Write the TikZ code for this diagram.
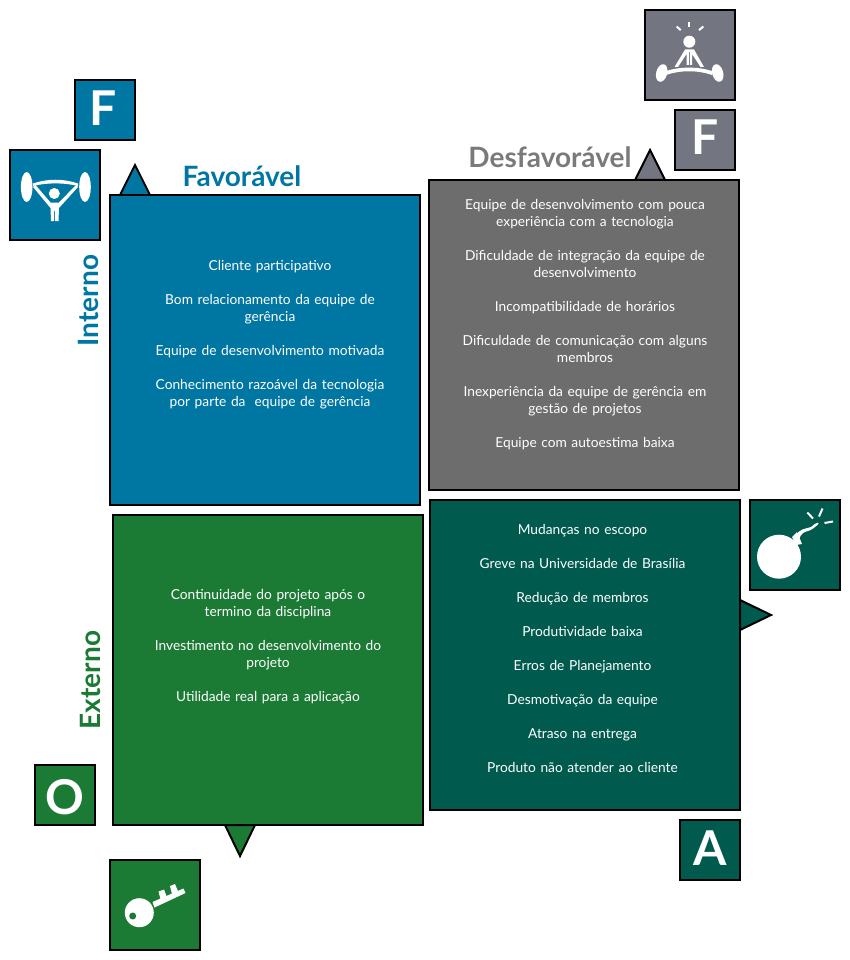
\documentclass[tikz,border=0pt]{standalone}
\usepackage{fontspec}
\setmainfont{Lato}
\definecolor{cblue}{HTML}{0076A3}
\definecolor{cgray}{HTML}{6D6D6D}
\definecolor{cicon}{HTML}{737680}
\definecolor{cteal}{HTML}{005A4E}
\definecolor{cgreen}{HTML}{1B7B35}
\definecolor{chead}{HTML}{7A7A7A}
\tikzset{
  panel/.style={draw=black,line width=2pt},
  bodytext/.style={text=white,align=center,inner sep=0pt,font=\fontsize{13.75}{17}\selectfont,text width=290pt},
  letter/.style={text=white,inner sep=0pt,font=\fontsize{48}{48}\selectfont\bfseries},
  heading/.style={inner sep=0pt,font=\fontsize{28}{30}\selectfont\bfseries},
  ink/.style={fill=white,draw=none},
  stroke/.style={draw=white,line cap=butt}
}
\begin{document}
\begin{tikzpicture}[x=1pt,y=-1pt]
\useasboundingbox (0,0) rectangle (850,960);
% pointers
\draw[panel,fill=cblue] (120,195) -- (135,165) -- (150,195) -- cycle;
\draw[panel,fill=cicon] (635,180) -- (650,150) -- (665,180) -- cycle;
\draw[panel,fill=cteal] (740,600) -- (771,615) -- (740,630) -- cycle;
\draw[panel,fill=cgreen] (225,825) -- (240,856) -- (255,825) -- cycle;
% panels
\draw[panel,fill=cblue] (110,195) rectangle (420,505);
\draw[panel,fill=cgray] (429,180) rectangle (739,489.7);
\draw[panel,fill=cteal] (430,500) rectangle (740,810);
\draw[panel,fill=cgreen] (113,515) rectangle (423,825);
% small boxes
\draw[panel,fill=cblue] (75,80) rectangle (135,140);
\draw[panel,fill=cblue] (10,150) rectangle (100,240);
\draw[panel,fill=cicon] (675,110) rectangle (735,170);
\draw[panel,fill=cicon] (645,10) rectangle (735,100);
\draw[panel,fill=cteal] (750,500) rectangle (840,590);
\draw[panel,fill=cteal] (680,820) rectangle (740,880);
\draw[panel,fill=cgreen] (35,765) rectangle (95,825);
\draw[panel,fill=cgreen] (110,860) rectangle (200,950);
% letters
\node[letter] (lf1) at (103,108) {F};
\node[letter] (lf2) at (705,137.5) {F};
\node[letter] (lo) at (65,797.5) {O};
\node[letter] (la) at (710,848.5) {A};
% headings
\node[heading,text=cblue] (fav) at (242,176) {Favorável};
\node[heading,text=chead] (des) at (550,157) {Desfavorável};
\node[heading,text=cblue,rotate=90] (int) at (88,300.5) {Interno};
\node[heading,text=cgreen,rotate=90] (ext) at (90,680) {Externo};
% texts
\node[bodytext] (t1) at (270,335) {Cliente participativo\\[17pt]Bom relacionamento da equipe de\\gerência\\[17pt]Equipe de desenvolvimento motivada\\[17pt]Conhecimento razoável da tecnologia\\por parte da\ \ equipe de gerência};
\node[bodytext] (t2) at (585,325) {Equipe de desenvolvimento com pouca\\experiência com a tecnologia\\[17pt]Dificuldade de integração da equipe de\\desenvolvimento\\[17pt]Incompatibilidade de horários\\[17pt]Dificuldade de comunicação com alguns\\membros\\[17pt]Inexperiência da equipe de gerência em\\gestão de projetos\\[17pt]Equipe com autoestima baixa};
\node[bodytext] (t3) at (582.5,648) {Mudanças no escopo\\[17pt]Greve na Universidade de Brasília\\[17pt]Redução de membros\\[17pt]Produtividade baixa\\[17pt]Erros de Planejamento\\[17pt]Desmotivação da equipe\\[17pt]Atraso na entrega\\[17pt]Produto não atender ao cliente};
\node[bodytext] (t4) at (268,647) {Continuidade do projeto após o\\termino da disciplina\\[17pt]Investimento no desenvolvimento do\\projeto\\[17pt]Utilidade real para a aplicação};
% weightlifter
\fill[ink] (26.7,187) ellipse [x radius=5.8,y radius=15];
\fill[ink] (85,187) ellipse [x radius=5.8,y radius=15];
\fill[ink] (54.3,193.5) circle (5.5);
\fill[ink] (33,183.5) .. controls (47,178.5) and (64,178.5) .. (78,183.5) -- (78,186) .. controls (64,182.5) and (47,182.5) .. (33,186) -- cycle;
\fill[ink] (33,187) -- (35.5,185) -- (50.5,202.5) -- (59,202.5) -- (76,185) -- (78,187) -- (59,208) -- (58.5,221) -- (55.2,221) -- (55.2,211) -- (54.2,211) -- (54.2,221) -- (51,221) -- (50.5,208) -- cycle;
% seated figure
\fill[ink] (689.3,41.7) circle (6);
\draw[stroke,line width=2pt] (689,22.5) -- (689,27);
\draw[stroke,line width=2pt] (676.7,26.5) -- (680.7,30.2);
\draw[stroke,line width=2pt] (703.3,26.5) -- (699,30.2);
\fill[ink,rotate around={-15:(661.7,73)}] (661.7,73) ellipse [x radius=5.5,y radius=9];
\fill[ink,rotate around={15:(717.7,73)}] (717.7,73) ellipse [x radius=5.5,y radius=9];
\fill[ink] (666,71) .. controls (680,66.5) and (698,66.5) .. (712,71) -- (712,75) .. controls (698,70) and (680,70) .. (666,75) -- cycle;
\fill[ink] (685,49.5) -- (694,49.5) -- (704,67) -- (700.5,67) -- (692,54) -- (692,65) -- (689.8,65) -- (689.8,52) -- (688.8,52) -- (688.8,65) -- (686.5,65) -- (686.5,54) -- (678,67) -- (674.5,67) -- cycle;
% bomb
\fill[ink] (779,556.7) circle (22);
\fill[ink] (792,537) -- (797,532) -- (802,544) -- (796,545) -- cycle;
\fill[ink] (795,537) .. controls (799,528) and (806,529) .. (811,527) .. controls (814,525) and (815,523) .. (818,522.5) -- (818.5,524) .. controls (815,527) and (812,530) .. (808,531) .. controls (804,532) and (801,533) .. (799,540) -- cycle;
\draw[stroke,line width=2pt] (807.3,512.5) -- (813,518.5);
\draw[stroke,line width=2pt] (822.5,508.5) -- (819,516.5);
\draw[stroke,line width=2pt] (824.5,523) -- (833,521.5);
% key
\fill[ink] (139.3,912.7) circle (14.5);
\fill[cgreen] (132.7,916) circle (3.5);
\fill[ink] (152.5,902) -- (183.5,888.5) -- (185.5,893) -- (154.5,907.5) -- cycle;
\fill[ink] (160.5,899) -- (158.5,891.5) -- (164,889.5) -- (166.5,896) -- cycle;
\fill[ink] (172,894) -- (170,886) -- (175,884) -- (178,891) -- cycle;
\end{tikzpicture}
\end{document}
